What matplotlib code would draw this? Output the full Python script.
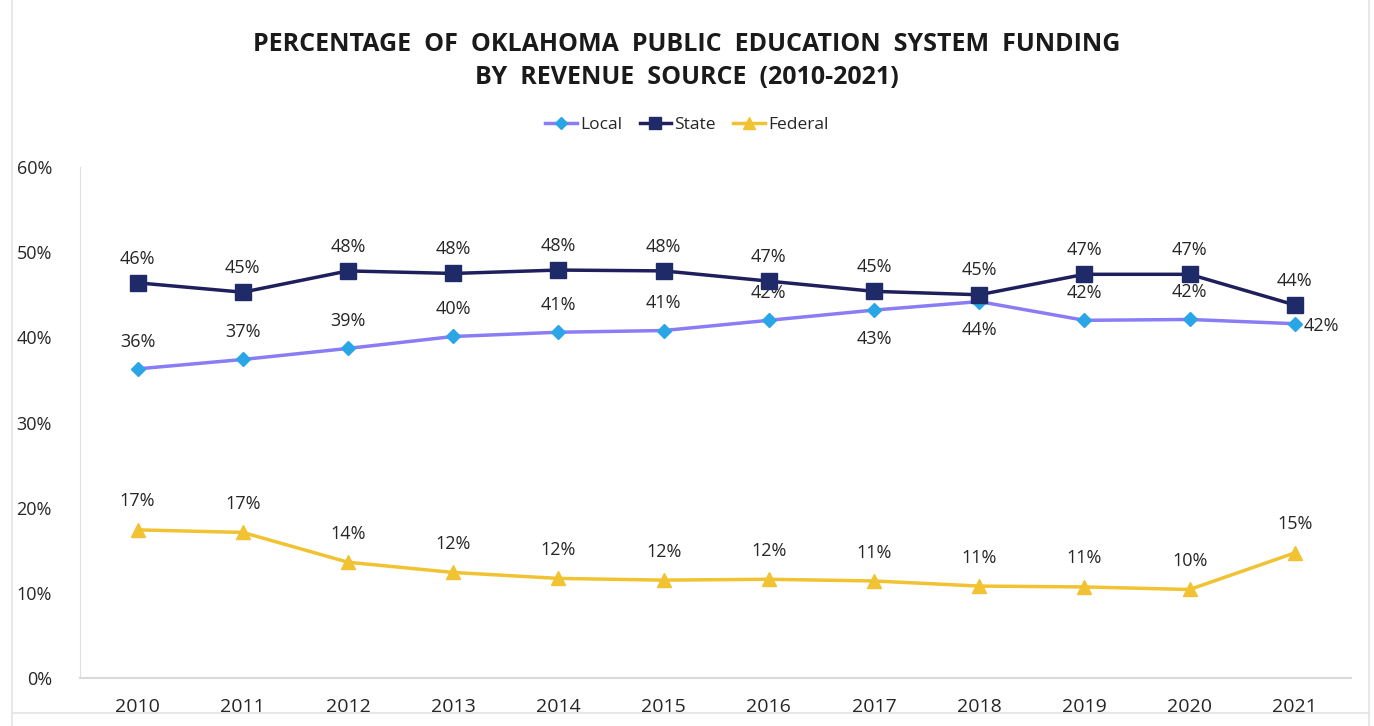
"""
oklahoma public education funding by revenue source
line chart of local / state / federal shares, 2010-2021
"""

import matplotlib.pyplot as plt
from matplotlib.lines import Line2D

years = list(range(2010, 2022))

local_share = [36.3, 37.4, 38.7, 40.1, 40.6, 40.8, 42.0, 43.2, 44.2, 42.0, 42.1, 41.6]
state_share = [46.4, 45.3, 47.8, 47.5, 47.9, 47.8, 46.6, 45.4, 45.0, 47.4, 47.4, 43.8]
federal_share = [17.4, 17.1, 13.6, 12.4, 11.7, 11.5, 11.6, 11.4, 10.8, 10.7, 10.4, 14.7]

y_ticks = [0, 10, 20, 30, 40, 50, 60]

plt.rcParams['font.family'] = ['Open Sans', 'DejaVu Sans']
text_color = '#262626'

fig = plt.figure(figsize=(13.74, 7.26), dpi=100)
ax = fig.add_axes([0.058, 0.066, 0.925, 0.704])

# series styles: (values, label, line colour, marker, marker colour, marker size)
series = [
    (local_share, 'Local', '#8a7cf4', 'D', '#2aa6e6', 7.5),
    (state_share, 'State', '#1e1f5c', 's', '#1f2b68', 11.5),
    (federal_share, 'Federal', '#f1c232', '^', '#f1c232', 10),
]

for values, label, line_c, marker, marker_c, ms in series:
    ax.plot(years, values, color=line_c, lw=2.5, marker=marker, ms=ms,
            markerfacecolor=marker_c, markeredgecolor=marker_c, label=label,
            zorder=3 if label != 'State' else 4)


def put_label(v, yr, dx, dy, ha='center', va='bottom'):
    ax.annotate(f"{round(v)}%", (yr, v), xytext=(dx, dy), textcoords='offset points',
                ha=ha, va=va, fontsize=13, color=text_color)


# data labels - mostly above the point, a few moved to avoid overlaps
for i, yr in enumerate(years):
    put_label(state_share[i], yr, 0, 11)

    v = local_share[i]
    if yr in (2017, 2018):
        put_label(v, yr, 0, -14, va='top')
    elif yr == 2021:
        put_label(v, yr, 6, -2, ha='left', va='center')
    else:
        put_label(v, yr, 0, 13)

    put_label(federal_share[i], yr, 0, 14)

ax.set_xlim(2009.45, 2021.53)
ax.set_ylim(0, 60)
ax.set_xticks(years)
ax.set_xticklabels([str(y) for y in years], fontsize=14, color=text_color)
ax.set_yticks(y_ticks)
ax.set_yticklabels([f"{t}%" for t in y_ticks], fontsize=13, color=text_color)
ax.tick_params(length=0, pad=14)
ax.tick_params(axis='y', pad=20)

for side in ('top', 'right'):
    ax.spines[side].set_visible(False)
ax.spines['left'].set_color('#e0e0e0')
ax.spines['bottom'].set_color('#d9d9d9')
ax.spines['bottom'].set_linewidth(1.5)

# legend above the plot
handles = [Line2D([0], [0], color=lc, lw=2.5, marker=m, ms=ms * 0.8,
                  markerfacecolor=mc, markeredgecolor=mc)
           for _, _, lc, m, mc, ms in series]
fig.legend(handles, [s[1] for s in series], loc='center', bbox_to_anchor=(0.5, 0.828),
           ncol=3, frameon=False, fontsize=12.5, handlelength=1.8, handletextpad=0.2,
           columnspacing=1.0, labelcolor=text_color)

fig.text(0.5, 0.916, "PERCENTAGE  OF  OKLAHOMA  PUBLIC  EDUCATION  SYSTEM  FUNDING\nBY  REVENUE  SOURCE  (2010-2021)",
         ha='center', va='center', fontsize=18, fontweight='bold', color='#1a1a1a',
         linespacing=1.45)

# light outer frame
for coords in (([12, 12], [0, 726]), ([1369, 1369], [0, 726]), ([12, 1369], [713, 713])):
    xs = [c / 1374 for c in coords[0]]
    ys = [1 - c / 726 for c in coords[1]]
    fig.add_artist(Line2D(xs, ys, color='#e3e3e3', lw=1.2, transform=fig.transFigure))

fig.savefig('out.png', dpi=100, facecolor='white')
